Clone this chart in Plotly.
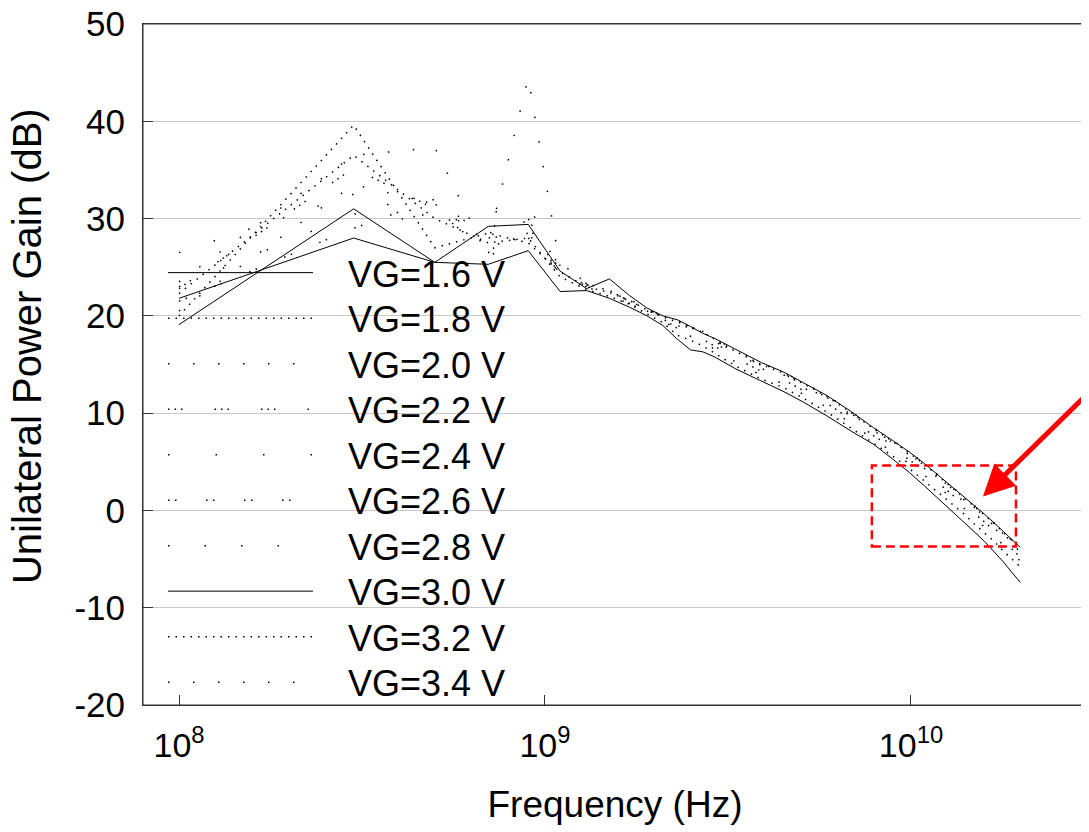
import math
import plotly.graph_objects as go

# Frequency points (GHz)
freq_ghz = [0.1, 0.3, 0.5, 0.7, 0.9, 1.1, 1.3, 1.5, 1.7, 1.9, 2.1, 2.3, 2.5, 2.7, 2.9,
            3.3, 3.9, 4.5, 5.1, 5.9, 6.9, 7.9, 8.9, 9.9, 10.9, 11.9, 12.9, 13.9, 14.9,
            15.9, 16.9, 17.9, 18.9, 19.9]

# Unilateral power gain (dB) per gate voltage
gain_vg16 = [21.8, 28.0, 25.5, 25.3, 26.7, 22.5, 22.6, 21.8, 20.9, 20.0, 19.0, 17.6, 16.5, 16.3, 15.8,
             14.6, 13.3, 12.2, 11.1, 9.7, 8.1, 6.8, 5.3, 3.9, 2.5, 1.2, 0.0, -1.1, -2.2,
             -3.2, -4.3, -5.3, -6.4, -7.4]
gain_vg18 = [22.3, 36.5, 30.0, 27.5, 28.0, 24.0, 22.7, 22.0, 21.2, 20.2, 19.3, 18.0, 17.5, 16.9, 16.2,
             14.9, 13.5, 12.6, 11.5, 10.1, 8.4, 6.9, 5.6, 4.3, 3.0, 1.8, 0.7, -0.3, -1.4,
             -2.3, -3.2, -4.2, -5.0, -5.8]
gain_vg20 = [20.5, 33.5, 31.5, 27.5, 44.5, 25.0, 23.5, 22.5, 21.5, 20.5, 19.6, 18.4, 17.9, 17.3, 16.6,
             15.3, 13.9, 13.0, 11.9, 10.6, 8.9, 7.3, 6.0, 4.8, 3.6, 2.4, 1.3, 0.3, -0.8,
             -1.7, -2.6, -3.6, -4.4, -5.2]
gain_vg22 = [22.8, 35.2, 31.0, 26.5, 30.0, 24.0, 23.0, 22.0, 21.3, 20.4, 19.7, 18.7, 18.2, 17.6, 16.9,
             15.7, 14.3, 13.4, 12.3, 11.0, 9.3, 7.7, 6.4, 5.2, 4.0, 2.8, 1.7, 0.7, -0.3,
             -1.2, -2.1, -3.1, -4.0, -4.8]
gain_vg24 = [23.0, 30.5, 29.6, 30.5, 31.5, 24.8, 23.4, 22.4, 21.6, 20.6, 19.9, 19.0, 18.5, 17.9, 17.2,
             16.0, 14.6, 13.7, 12.6, 11.3, 9.6, 8.0, 6.7, 5.5, 4.3, 3.1, 2.0, 1.0, 0.0,
             -0.9, -1.8, -2.8, -3.7, -4.5]
gain_vg26 = [21.5, 29.0, 32.0, 28.0, 28.5, 24.3, 23.2, 22.6, 21.5, 20.6, 19.9, 19.3, 18.8, 18.2, 17.5,
             16.3, 14.9, 14.0, 12.9, 11.6, 9.9, 8.3, 7.0, 5.8, 4.6, 3.4, 2.3, 1.3, 0.3,
             -0.6, -1.5, -2.4, -3.3, -4.1]
gain_vg28 = [26.5, 32.5, 30.0, 29.5, 28.0, 25.0, 23.3, 22.5, 21.6, 20.7, 19.9, 19.2, 18.7, 18.1, 17.4,
             16.2, 14.8, 13.9, 12.8, 11.5, 9.8, 8.2, 6.9, 5.7, 4.5, 3.3, 2.2, 1.2, 0.2,
             -0.7, -1.6, -2.5, -3.4, -4.3]
gain_vg30 = [19.1, 31.0, 25.5, 29.2, 29.4, 24.6, 22.8, 23.8, 22.1, 20.8, 20.0, 19.6, 18.9, 18.2, 17.7,
             16.6, 15.2, 14.2, 13.1, 11.8, 10.1, 8.5, 7.2, 6.0, 4.8, 3.6, 2.5, 1.5, 0.5,
             -0.4, -1.3, -2.2, -3.0, -3.8]
gain_vg32 = [20.0, 39.6, 27.0, 28.5, 27.5, 24.5, 23.0, 22.4, 21.6, 20.6, 19.9, 19.4, 18.9, 18.3, 17.6,
             16.4, 15.0, 14.1, 13.0, 11.7, 10.0, 8.4, 7.1, 5.9, 4.7, 3.5, 2.4, 1.4, 0.4,
             -0.5, -1.4, -2.3, -3.1, -3.9]
gain_vg34 = [23.5, 36.5, 37.3, 26.0, 29.0, 25.5, 23.2, 22.6, 21.7, 20.7, 20.0, 19.5, 19.0, 18.4, 17.7,
             16.5, 15.1, 14.2, 13.1, 11.8, 10.1, 8.5, 7.2, 6.0, 4.8, 3.6, 2.5, 1.5, 0.5,
             -0.4, -1.3, -2.2, -3.1, -4.0]

series_names = ["VG=1.6 V", "VG=1.8 V", "VG=2.0 V", "VG=2.2 V", "VG=2.4 V",
                "VG=2.6 V", "VG=2.8 V", "VG=3.0 V", "VG=3.2 V", "VG=3.4 V"]
series_values = [gain_vg16, gain_vg18, gain_vg20, gain_vg22, gain_vg24,
                 gain_vg26, gain_vg28, gain_vg30, gain_vg32, gain_vg34]
series_dash = ["solid", "1.5px,6px", "1.5px,23.5px", "1.5px,5px,1.5px,5px,1.5px,32px", "1.5px,46px",
               "1.5px,5.5px,1.5px,29.5px", "1.5px,35px", "solid", "1.5px,6px", "1.5px,23.5px"]
series_width = [1, 1.5, 1.5, 1.5, 1.5, 1.5, 1.5, 1, 1.5, 1.5]

x_tick_vals = [1e8, 1e9, 1e10]
x_tick_text = ["10<sup>8</sup>", "10<sup>9</sup>", "10<sup>10</sup>"]
y_tick_vals = [-20, -10, 0, 10, 20, 30, 40, 50]
y_tick_text = ["-20", "-10", "0", "10", "20", "30", "40", "50"]

# highlight box (Hz / dB) and arrow tip
box_f = [7.82e9, 1.936e10]
box_g = [-3.7, 4.63]
arrow_tip = (1.573e10, 1.44)

FONT = "Liberation Sans, Arial, sans-serif"
freq_hz = [f * 1e9 for f in freq_ghz]

# legend entries: one small legend per series, stacked in a column
LEG_FONT = 36
LEG_TOP0 = 0.6788     # paper y of first entry's legend box top
LEG_STEP = 45.5 / 681  # paper-units spacing between entries

fig = go.Figure()
legend_layouts = {}
for i, (name, vals, dash, w) in enumerate(zip(series_names, series_values, series_dash, series_width)):
    key = "legend" if i == 0 else f"legend{i + 1}"
    fig.add_trace(go.Scatter(
        x=freq_hz, y=vals, mode="lines", name="\u00a0\u00a0\u00a0" + name,
        line=dict(color="black", width=w, dash=dash), legend=key,
    ))
    legend_layouts[key] = dict(
        x=0.0212, y=LEG_TOP0 - i * LEG_STEP, xanchor="left", yanchor="top",
        bgcolor="rgba(0,0,0,0)", borderwidth=0, itemwidth=145,
        font=dict(family=FONT, size=LEG_FONT, color="black"),
    )

# plot frame
fig.add_shape(type="rect", xref="paper", yref="paper", x0=0, x1=1, y0=0, y1=1,
              line=dict(color="#333", width=1), layer="above")

fig.add_shape(type="rect", xref="x", yref="y",
              x0=box_f[0], x1=box_f[1], y0=box_g[0], y1=box_g[1],
              line=dict(color="red", width=2.5, dash="9px,5px"))

fig.add_annotation(x=math.log10(arrow_tip[0]), y=arrow_tip[1], xref="x", yref="y",
                   text="", showarrow=True, ax=115, ay=-104,
                   arrowcolor="red", arrowwidth=5, arrowhead=2, arrowsize=1.25, standoff=0)

fig.add_annotation(text="Unilateral Power Gain (dB)", xref="paper", yref="paper",
                   x=-0.1229, y=0.527, xanchor="center", yanchor="middle",
                   textangle=-90, showarrow=False,
                   font=dict(family=FONT, size=40, color="black"))

fig.update_layout(
    width=1081, height=824,
    margin=dict(l=135, r=2, t=16, b=127, autoexpand=False),
    paper_bgcolor="white", plot_bgcolor="white",
    font=dict(family=FONT, size=35, color="black"),
    showlegend=True,
    xaxis=dict(type="log", range=[7.9016, 10.481],
               tickvals=x_tick_vals, ticktext=x_tick_text,
               ticks="inside", ticklen=10, tickcolor="#333", tickwidth=1,
               showgrid=False, showline=True, linecolor="#333", linewidth=1, mirror=True,
               tickfont=dict(family=FONT, size=34), ticklabelstandoff=10,
               ticklabeloverflow="allow", automargin=False,
               title=dict(text="Frequency (Hz)", font=dict(family=FONT, size=37), standoff=28),
               zeroline=False),
    yaxis=dict(range=[-20, 50], tickvals=y_tick_vals, ticktext=y_tick_text,
               ticks="inside", ticklen=10, tickcolor="#333", tickwidth=1,
               showgrid=True, gridcolor="#c8c8c8", gridwidth=1,
               showline=True, linecolor="#333", linewidth=1, mirror=True,
               tickfont=dict(family=FONT, size=35), ticklabelstandoff=10,
               ticklabeloverflow="allow", automargin=False,
               zeroline=False),
    **legend_layouts,
)

fig.write_html("out.html")
